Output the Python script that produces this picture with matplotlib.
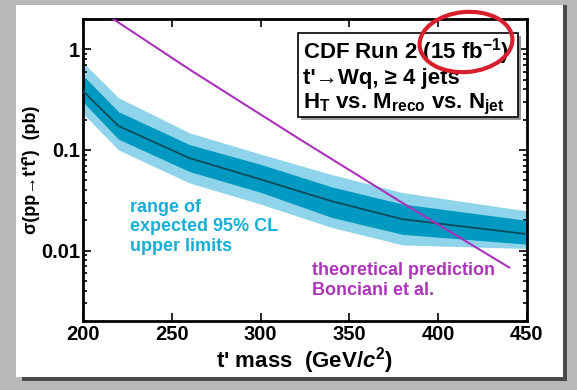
import matplotlib
matplotlib.use("Agg")
import matplotlib.pyplot as plt
import matplotlib.patches as mpatches
import matplotlib.transforms as mtransforms
from matplotlib.ticker import FixedLocator, FixedFormatter, LogLocator, NullFormatter

plt.rcParams["font.family"] = ["Liberation Sans", "DejaVu Sans"]
plt.rcParams["font.weight"] = "bold"
plt.rcParams["mathtext.fontset"] = "custom"
plt.rcParams["mathtext.rm"] = "Liberation Sans:bold"
plt.rcParams["mathtext.bf"] = "Liberation Sans:bold"
plt.rcParams["mathtext.it"] = "Liberation Sans:bold:italic"

# expected limit bands (pb) vs t' mass (GeV/c^2)
mass = [200, 220, 260, 300, 340, 380, 450]
median = [0.385, 0.173, 0.083, 0.051, 0.031, 0.0205, 0.0146]
band1_hi = [0.55, 0.24, 0.113, 0.072, 0.043, 0.029, 0.020]
band1_lo = [0.30, 0.128, 0.061, 0.038, 0.0214, 0.0145, 0.0116]
band2_hi = [0.74, 0.33, 0.148, 0.091, 0.057, 0.0377, 0.0248]
band2_lo = [0.23, 0.10, 0.047, 0.029, 0.017, 0.0114, 0.0105]

# theory cross section
theory_mass = [200, 217, 260, 322, 377, 440]
theory_xs = [3.2, 2.0, 0.63, 0.128, 0.032, 0.0068]

x_ticks = [200, 250, 300, 350, 400, 450]
y_ticks = [0.01, 0.1, 1]
y_tick_labels = ["0.01", "0.1", "1"]

fig = plt.figure(figsize=(5.77, 3.90), dpi=100, facecolor="#b8b8b8")

# paper background
fig.patches.append(mpatches.Rectangle((22 / 577, 1 - 381 / 390), 545 / 577, 376 / 390,
                                      transform=fig.transFigure, facecolor="#4a4a4a",
                                      edgecolor="none", zorder=-2))
fig.patches.append(mpatches.Rectangle((16 / 577, 1 - 377 / 390), 547 / 577, 372 / 390,
                                      transform=fig.transFigure, facecolor="white",
                                      edgecolor="none", zorder=-1))

ax = fig.add_axes([83 / 577, 1 - 321 / 390, 444 / 577, 302 / 390])

ax.fill_between(mass, band2_lo, band2_hi, color="#8fd4ea", lw=0, zorder=1)
ax.fill_between(mass, band1_lo, band1_hi, color="#0099c2", lw=0, zorder=2)
ax.plot(mass, median, color="#0a4c5c", lw=1.3, zorder=3)
ax.plot(theory_mass, theory_xs, color="#a833b9", lw=1.5, zorder=4)

ax.set_yscale("log")
ax.set_xlim(200, 450)
ax.set_ylim(0.002, 2.0)

ax.xaxis.set_major_locator(FixedLocator(x_ticks))
ax.yaxis.set_major_locator(FixedLocator(y_ticks))
ax.yaxis.set_major_formatter(FixedFormatter(y_tick_labels))
ax.yaxis.set_minor_locator(LogLocator(base=10, subs=range(2, 10)))
ax.yaxis.set_minor_formatter(NullFormatter())
ax.tick_params(which="both", direction="in", top=True, right=True, width=1.2)
ax.tick_params(which="major", length=6, labelsize=14.5)
ax.tick_params(axis="y", pad=2)
ax.tick_params(axis="x", pad=3)
ax.tick_params(which="minor", length=3)
for label in ax.get_xticklabels() + ax.get_yticklabels():
    label.set_fontweight("bold")
for sp in ax.spines.values():
    sp.set_linewidth(2)

ax.set_xlabel(r"t' mass  (GeV/$\mathit{c}^{2}$)", fontsize=16, fontweight="bold", labelpad=1)
ax.set_ylabel("σ(pp→t't\u0304')  (pb)", fontsize=13, fontweight="bold", labelpad=1)

ax.text(0.106, 0.405, "range of\nexpected 95% CL\nupper limits", transform=ax.transAxes,
        color="#17aed6", fontsize=13, fontweight="bold", va="top", linespacing=1.2)
ax.text(0.516, 0.195, "theoretical prediction\nBonciani et al.", transform=ax.transAxes,
        color="#ac35b9", fontsize=13, fontweight="bold", va="top", linespacing=1.2)

# info box with drop shadow
box_x0, box_y0, box_w, box_h = 0.484, 0.675, 0.496, 0.279
shadow = mtransforms.offset_copy(ax.transAxes, fig=fig, x=3, y=-3, units="dots")
ax.add_patch(mpatches.Rectangle((box_x0, box_y0), box_w, box_h, transform=shadow,
                                facecolor="#9a9a9a", edgecolor="none", zorder=5))
ax.add_patch(mpatches.Rectangle((box_x0, box_y0), box_w, box_h, transform=ax.transAxes,
                                facecolor="white", edgecolor="black", lw=1.2, zorder=6))
info = "CDF Run 2 (15 fb$^{-1}$)\nt'→Wq, ≥ 4 jets\nH$_{\\mathrm{T}}$ vs. M$_{\\mathrm{reco}}$ vs. N$_{\\mathrm{jet}}$"
ax.text(0.4955, 0.945, info, transform=ax.transAxes, fontsize=16, fontweight="bold",
        va="top", ha="left", linespacing=1.12, zorder=7)

# red highlight ellipse
fig.patches.append(mpatches.Ellipse((4.66, 3.90 - 0.42), 0.93, 0.60, angle=5,
                                    transform=fig.dpi_scale_trans, facecolor="none",
                                    edgecolor="#d6202e", lw=3, zorder=10))

fig.savefig("out.png", dpi=100, facecolor=fig.get_facecolor())
